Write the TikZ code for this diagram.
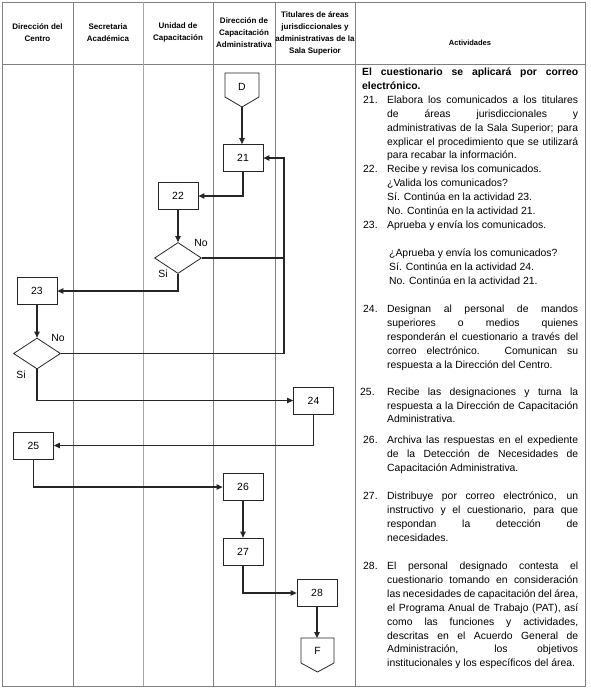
\documentclass[tikz,border=0pt]{standalone}
\usepackage{fontspec}
\setmainfont{Liberation Sans}
\usetikzlibrary{shapes.geometric,arrows.meta}
\newcommand\LJ[1]{\hbox to 191pt{#1}}
\newcommand\LN[1]{\hbox{#1}}
\tikzset{
  box/.style={draw=black!85, line width=0.8pt, minimum width=40pt, minimum height=27pt, inner sep=0pt, font=\fontsize{10.4}{12}\selectfont},
  dec/.style={diamond, draw=black!85, line width=0.8pt, minimum width=47pt, minimum height=31pt, inner sep=0pt},
  arr/.style={draw=black!85, line width=1.1pt, -{Triangle[length=6pt,width=5.5pt]}},
  conn/.style={draw=black!85, line width=1.1pt},
  gridline/.style={draw=black!50, line width=0.8pt},
  shapeline/.style={draw=black!85, line width=0.8pt},
  head/.style={align=center, font=\fontsize{8}{12}\bfseries\selectfont, inner sep=0pt},
  lbl/.style={font=\fontsize{10.4}{12}\selectfont, inner sep=0pt},
  txt/.style={anchor=base west, inner sep=0pt, font=\fontsize{10.4}{13.9}\selectfont}
}
\begin{document}
\begin{tikzpicture}[x=1pt,y=-1pt]
\useasboundingbox (0,0) rectangle (590,691);
% table
\draw[gridline] (2,2) rectangle (585,686);
\draw[gridline] (2,64) -- (585,64);
\foreach \cx in {73,213,275,355} {\draw[gridline] (\cx,2) -- (\cx,686);}
\draw[gridline, draw=black!35] (143,2) -- (143,686);
% headers
\node[head] (h1) at (37.5,32.5) {Dirección del\\Centro};
\node[head] (h2) at (108,32.5) {Secretaria\\Académica};
\node[head] (h3) at (178,32.5) {Unidad de\\Capacitación};
\node[head] (h4) at (244,33) {Dirección de\\Capacitación\\Administrativa};
\node[head] (h5) at (315,33) {Titulares de áreas\\jurisdiccionales y\\administrativas de la\\Sala Superior};
\node[head, font=\fontsize{7.5}{9}\bfseries\selectfont] (h6) at (470,43) {Actividades};
% connectors shapes
\draw[shapeline] (225,73) -- (259,73) -- (259,97) -- (242,107) -- (225,97) -- cycle;
\node[lbl] (D) at (242,87) {D};
\coordinate (Dtip) at (242,107);
\draw[shapeline] (301,638) -- (334,638) -- (334,663) -- (317.5,672) -- (301,663) -- cycle;
\node[lbl] (F) at (317.5,651) {F};
\coordinate (Ftop) at (317,638);
% boxes
\node[box] (n21) at (243,158) {21};
\node[box] (n22) at (178,196) {22};
\node[dec] (d1) at (178,258) {};
\node[box] (n23) at (37,291) {23};
\node[dec] (d2) at (37,353.5) {};
\node[box] (n24) at (313.5,400.5) {24};
\node[box] (n25) at (33.5,445.5) {25};
\node[box] (n26) at (243,487) {26};
\node[box] (n27) at (243,551.5) {27};
\node[box] (n28) at (317,593) {28};
\node[lbl] (no1) at (201,243) {No};
\node[lbl] (si1) at (163,274) {Si};
\node[lbl] (no2) at (58,338) {No};
\node[lbl] (si2) at (21,375) {Si};
\coordinate (ret) at (284,0);
% arrows
\draw[arr] (Dtip) -- (Dtip |- n21.north);
\draw[arr] (n21.south) |- (n22.east);
\draw[arr] (n22.south) -- (d1.north);
\draw[arr] (d1.east) -- (d1.east -| ret) |- (n21.east);
\draw[arr] (d1.south) |- (n23.east);
\draw[arr] (n23.south) -- (d2.north);
\draw[conn] (d2.east) -- (d2.east -| ret) -- (d1.east -| ret);
\draw[arr] (d2.south) |- (n24.west);
\draw[arr] (n24.south) |- (n25.east);
\draw[arr] (n25.south) |- (n26.west);
\draw[arr] (n26.south) -- (n27.north);
\draw[arr] (n27.south) |- (n28.west);
\draw[arr] (n28.south) -- (Ftop);
% activities text
\node[txt, font=\fontsize{10.4}{13.9}\bfseries\selectfont] (intro) at (362,75.5) {\vtop{\baselineskip=13.9pt
  \hbox to 216pt{El cuestionario se aplicará por correo}\LN{electrónico.}}};
\node[txt] (k21) at (363,103.3) {21.};
\node[txt] (t21) at (387,103.3) {\vtop{\baselineskip=13.9pt
  \LJ{Elabora los comunicados a los titulares}
  \LJ{de áreas jurisdiccionales y}
  \LJ{administrativas de la Sala Superior; para}
  \LJ{explicar el procedimiento que se utilizará}
  \LN{para recabar la información.}}};
\node[txt] (k22) at (363,172.8) {22.};
\node[txt] (t22) at (387,172.8) {\vtop{\baselineskip=13.9pt
  \LN{Recibe y revisa los comunicados.}
  \LN{¿Valida los comunicados?}
  \LN{Sí. Continúa en la actividad 23.}
  \LN{No. Continúa en la actividad 21.}}};
\node[txt] (k23) at (363,228.4) {23.};
\node[txt] (t23) at (387,228.4) {Aprueba y envía los comunicados.};
\node[txt] (t23b) at (389,256.2) {\vtop{\baselineskip=13.9pt
  \LN{¿Aprueba y envía los comunicados?}
  \LN{Sí. Continúa en la actividad 24.}
  \LN{No. Continúa en la actividad 21.}}};
\node[txt] (k24) at (363,312.5) {24.};
\node[txt] (t24) at (387,312.5) {\vtop{\baselineskip=13.9pt
  \LJ{Designan al personal de mandos}
  \LJ{superiores o medios quienes}
  \LJ{responderán el cuestionario a través del}
  \LJ{correo electrónico. Comunican su}
  \LN{respuesta a la Dirección del Centro.}}};
\node[txt] (k25) at (360,395.5) {25.};
\node[txt] (t25) at (387,395.5) {\vtop{\baselineskip=13.5pt
  \LJ{Recibe las designaciones y turna la}
  \LJ{respuesta a la Dirección de Capacitación}
  \LN{Administrativa.}}};
\node[txt] (k26) at (363,443.5) {26.};
\node[txt] (t26) at (387,443.5) {\vtop{\baselineskip=13.9pt
  \LJ{Archiva las respuestas en el expediente}
  \LJ{de la Detección de Necesidades de}
  \LN{Capacitación Administrativa.}}};
\node[txt] (k27) at (363,499.5) {27.};
\node[txt] (t27) at (387,499.5) {\vtop{\baselineskip=13.9pt
  \LJ{Distribuye por correo electrónico, un}
  \LJ{instructivo y el cuestionario, para que}
  \LJ{respondan la detección de}
  \LN{necesidades.}}};
\node[txt] (k28) at (363,569.5) {28.};
\node[txt] (t28) at (387,569.5) {\vtop{\baselineskip=13.9pt
  \LJ{El personal designado contesta el}
  \LJ{cuestionario tomando en consideración}
  \LJ{las necesidades de capacitación del área,}
  \LJ{el Programa Anual de Trabajo (PAT), así}
  \LJ{como las funciones y actividades,}
  \LJ{descritas en el Acuerdo General de}
  \LJ{Administración, los objetivos}
  \LN{institucionales y los específicos del área.}}};
\end{tikzpicture}
\end{document}
